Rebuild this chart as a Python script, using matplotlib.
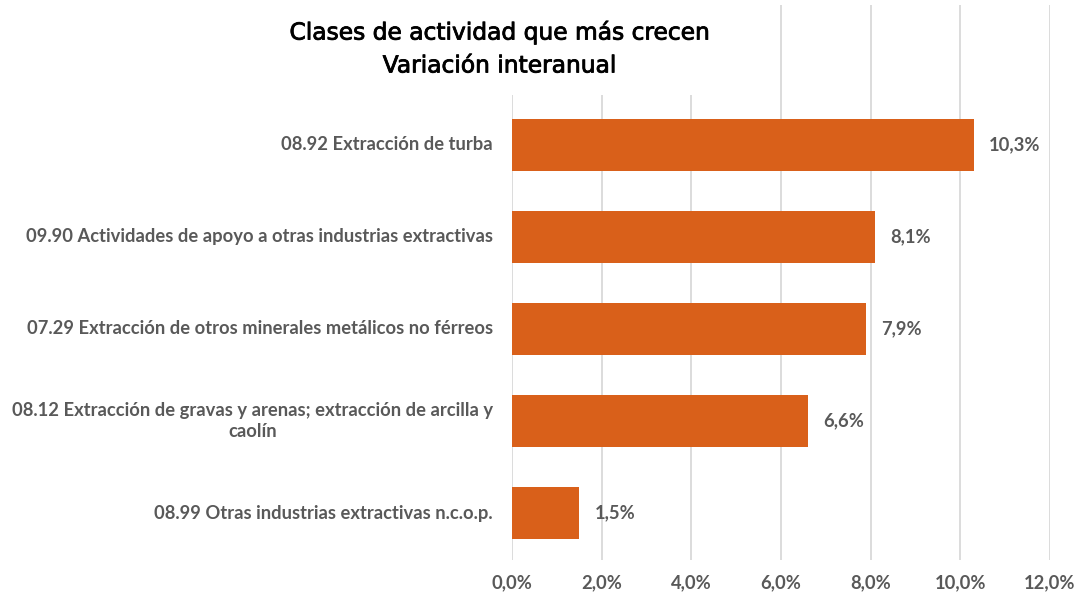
import matplotlib
matplotlib.use("Agg")
import matplotlib.pyplot as plt
import matplotlib.transforms as mtransforms
import matplotlib.patheffects as pe
from matplotlib.ticker import FuncFormatter, MultipleLocator

categories = [
    "08.92 Extracción de turba",
    "09.90 Actividades de apoyo a otras industrias extractivas",
    "07.29 Extracción de otros minerales metálicos no férreos",
    "08.12 Extracción de gravas y arenas; extracción de arcilla y\ncaolín",
    "08.99 Otras industrias extractivas n.c.o.p.",
]
values = [10.3, 8.1, 7.9, 6.6, 1.5]
value_labels = ["10,3%", "8,1%", "7,9%", "6,6%", "1,5%"]

BAR = "#D9601A"
TXT = "#595959"
FONT = "Lato"
FS = 13.2

fig = plt.figure(figsize=(10.8, 5.98), dpi=100)
ax = fig.add_axes([512/1080, 1-560/598, (1050-512)/1080, (560-5)/598])

pos = list(range(len(categories)))
ax.barh(pos, values, height=0.565, color=BAR, zorder=3)
ax.set_ylim(4.51, -1.52)
ax.set_xlim(0, 12)
ax.xaxis.set_major_locator(MultipleLocator(2))
ax.xaxis.set_major_formatter(FuncFormatter(lambda v, p: f"{v:.1f}%".replace(".", ",")))
ax.grid(axis="x", color="#D9D9D9", linewidth=1.3, zorder=0)
for s in ax.spines.values():
    s.set_visible(False)
ax.tick_params(axis="both", length=0)
ax.tick_params(axis="x", pad=10)
ax.set_yticks(pos)
ax.set_yticklabels([])
for lab in ax.get_xticklabels():
    lab.set_fontfamily(FONT)
    lab.set_fontweight("bold")
    lab.set_fontsize(FS)
    lab.set_color(TXT)

trans = mtransforms.blended_transform_factory(ax.transAxes, ax.transData)
off = mtransforms.ScaledTranslation(-19/100, 0, fig.dpi_scale_trans)
for p, c in zip(pos, categories):
    ax.text(0, p, c, transform=trans + off, ha="right", va="center",
            multialignment="center", fontsize=FS, fontweight="bold",
            color=TXT, fontfamily=FONT, linespacing=1.25)

for p, v, t in zip(pos, values, value_labels):
    ax.annotate(t, (v, p), xytext=(11, 0), textcoords="offset points",
                ha="left", va="center", fontsize=FS, fontweight="bold",
                color=TXT, fontfamily=FONT, zorder=4)

fig.text(500/1080, 1-49/598, "Clases de actividad que más crecen\nVariación interanual",
         ha="center", va="center", fontsize=16.8, color="black", fontfamily="DejaVu Sans",
         linespacing=1.55,
         path_effects=[pe.withStroke(linewidth=0.6, foreground="black")],
         bbox=dict(boxstyle="square,pad=0.75", facecolor="white", edgecolor="none"),
         zorder=10)

fig.savefig("out.png", dpi=100)
